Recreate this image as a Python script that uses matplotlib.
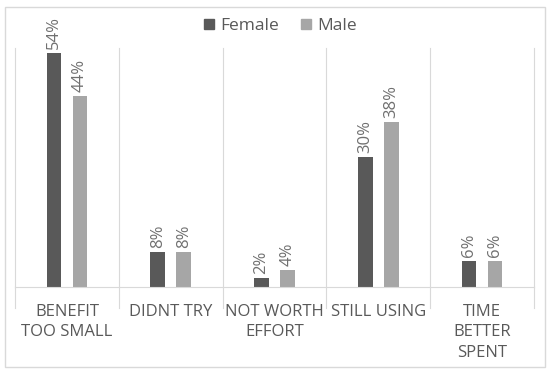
import matplotlib
matplotlib.use("Agg")
import matplotlib.pyplot as plt
from matplotlib.patches import Rectangle
from matplotlib.lines import Line2D
import numpy as np

categories = ["BENEFIT\nTOO SMALL", "DIDNT TRY", "NOT WORTH\nEFFORT", "STILL USING", "TIME\nBETTER\nSPENT"]
female = [54, 8, 2, 30, 6]
male = [44, 8, 4, 38, 6]
series_names = ["Female", "Male"]
colors = ["#595959", "#A6A6A6"]

plt.rcParams['font.family'] = ['Open Sans', 'DejaVu Sans']

fig = plt.figure(figsize=(5.5, 3.75), dpi=100)
fig.patches.append(Rectangle((5/550, 1-367/375), 540/550, 360/375, transform=fig.transFigure,
                             fill=False, edgecolor="#D9D9D9", linewidth=1))
ax = fig.add_axes([15/550, 1-287/375, (534-15)/550, (287-48)/375])
x = np.arange(len(categories))
w = 0.14
off = 0.125
b1 = ax.bar(x - off, female, w, color=colors[0], label=series_names[0])
b2 = ax.bar(x + off, male, w, color=colors[1], label=series_names[1])
for bars, vals in ((b1, female), (b2, male)):
    for r, v in zip(bars, vals):
        ax.annotate(f"{v}%", (r.get_x() + r.get_width()/2, r.get_height()),
                    xytext=(0, 3), textcoords="offset points", rotation=90,
                    ha="center", va="bottom", fontsize=12, color="#707070")
ax.set_xlim(-0.5, len(categories) - 0.5)
ax.set_ylim(0, 55.2)
ax.set_yticks([])
for s in ["top", "right", "left"]:
    ax.spines[s].set_visible(False)
ax.spines["bottom"].set_color("#D9D9D9")
# category separators
for b in np.arange(-0.5, len(categories), 1.0):
    ax.plot([b, b], [0, 1], transform=ax.get_xaxis_transform(), color="#D9D9D9", lw=0.8, clip_on=False)
    ax.plot([b, b], [0, -21/239], transform=ax.get_xaxis_transform(), color="#D9D9D9", lw=0.8, clip_on=False)
ax.set_xticks(x)
ax.set_xticklabels(categories, fontsize=12, color="#595959", linespacing=1.4)
ax.tick_params(axis="x", length=0, pad=12)
handles = [Line2D([], [], marker="s", linestyle="none", markersize=7, color=c) for c in colors]
fig.legend(handles, series_names, loc="center", bbox_to_anchor=(0.505, 1-26/375), ncol=2, frameon=False,
           fontsize=12.5, handletextpad=0.05, handlelength=1.2, columnspacing=1.0, labelcolor="#595959")
fig.savefig("out.png", dpi=100)
